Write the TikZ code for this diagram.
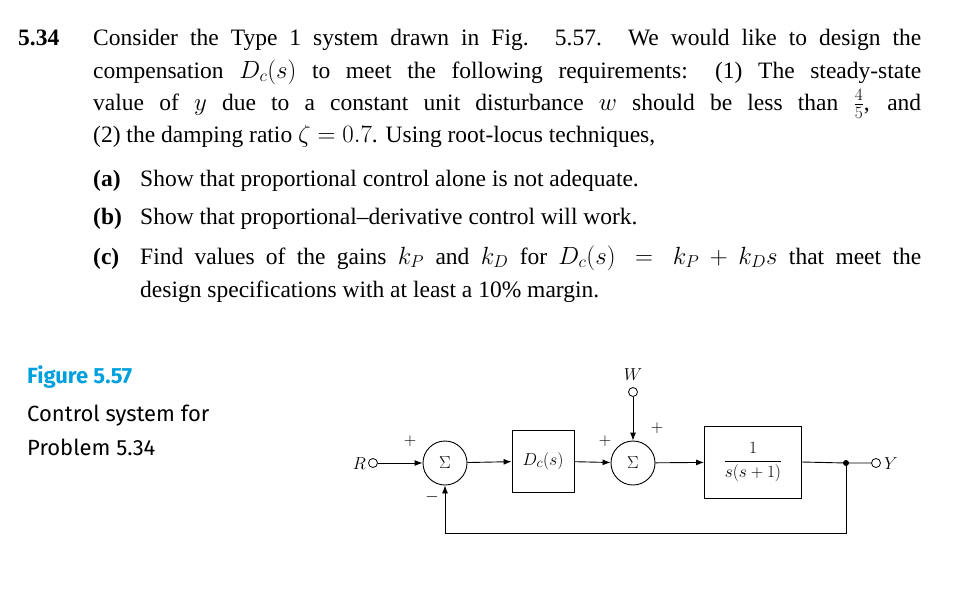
\documentclass[tikz,border=0pt]{standalone}
\usepackage{fontspec}
\setmainfont{Liberation Serif}
\newfontfamily\figfont{Fira Sans}
\usetikzlibrary{arrows.meta}
\definecolor{figblue}{RGB}{0,160,220}
\begin{document}
\begin{tikzpicture}[x=1pt,y=-1pt,
  txt/.style={anchor=base west,inner sep=0pt,font=\fontsize{23.5}{28}\selectfont},
  figt/.style={anchor=base west,inner sep=0pt,font=\figfont\fontsize{22}{26}\selectfont},
  blk/.style={draw,line width=0.9pt,inner sep=0pt,font=\fontsize{19}{22}\selectfont},
  sumn/.style={draw,circle,line width=0.9pt,minimum size=44pt,inner sep=0pt,font=\fontsize{19}{22}\selectfont},
  port/.style={draw,circle,minimum size=9pt,inner sep=0pt,line width=0.8pt},
  sig/.style={line width=0.9pt,-{Latex[length=8pt,width=6pt]}},
  wire/.style={line width=0.9pt},
  lbl/.style={inner sep=0pt,font=\fontsize{19}{22}\selectfont}]
\useasboundingbox (0,0) rectangle (971,605);
\node[txt,font=\bfseries\fontsize{23.5}{28}\selectfont] (num) at (18,45) {5.34};
\node[txt] (l1) at (93,45) {\hbox to 828pt{Consider the Type 1 system drawn in Fig. 5.57. We would like to design the}};
\node[txt] (l2) at (93,78) {\hbox to 828pt{compensation $D_c(s)$ to meet the following requirements: (1) The steady-state}};
\node[txt] (l3) at (93,110) {\hbox to 828pt{value of $y$ due to a constant unit disturbance $w$ should be less than $\frac45$, and}};
\node[txt] (l4) at (93,142) {(2) the damping ratio $\zeta = 0.7$. Using root-locus techniques,};
\node[txt,font=\bfseries\fontsize{23.5}{28}\selectfont] (la) at (93,186) {(a)};
\node[txt] (ta) at (140,186) {Show that proportional control alone is not adequate.};
\node[txt,font=\bfseries\fontsize{23.5}{28}\selectfont] (lb) at (93,224) {(b)};
\node[txt] (tb) at (140,224) {Show that proportional--derivative control will work.};
\node[txt,font=\bfseries\fontsize{23.5}{28}\selectfont] (lc) at (93,264) {(c)};
\node[txt] (tc1) at (140,264) {\hbox to 781pt{Find values of the gains $k_P$ and $k_D$ for $D_c(s) = k_P + k_D s$ that meet the}};
\node[txt] (tc2) at (140,297) {design specifications with at least a 10\% margin.};
\node[figt,text=figblue,font=\figfont\bfseries\fontsize{22}{26}\selectfont] (f1) at (27,383) {Figure 5.57};
\node[figt] (f2) at (27,421) {Control system for};
\node[figt] (f3) at (27,455) {Problem 5.34};
% diagram
\node[port] (R) at (373,463) {};
\node[lbl,anchor=east] (Rl) at (366,464) {$R$};
\node[sumn] (s1) at (445,463) {$\Sigma$};
\node[blk,minimum width=62pt,minimum height=62pt] (Dc) at (543,461) {$D_c(s)$};
\node[sumn] (s2) at (633,463) {$\Sigma$};
\node[port] (W) at (633,392) {};
\node[lbl] (Wl) at (633,375) {$W$};
\node[blk,minimum width=97pt,minimum height=72pt] (G) at (753,462) {$\displaystyle\frac{1}{s(s+1)}$};
\fill (846,463) circle (3pt) coordinate (J);
\node[port] (Y) at (876,463) {};
\node[lbl,anchor=west] (Yl) at (884,464) {$Y$};
\coordinate (fb1) at (846,533);
\coordinate (fb2) at (445,533);
\draw[sig] (R) -- (s1);
\draw[sig] (s1) -- (Dc);
\draw[sig] (Dc) -- (s2);
\draw[sig] (W) -- (s2);
\draw[sig] (s2) -- (G);
\draw[wire] (G.east) -- (J) -- (Y);
\draw[sig,line width=0.8pt] (J) -- (fb1) -- (fb2) -- (s1);
\node[lbl] (p1) at (410,441) {$+$};
\node[lbl] (m1) at (432,497) {$-$};
\node[lbl] (p2) at (605,441) {$+$};
\node[lbl] (p3) at (657,428) {$+$};
\end{tikzpicture}
\end{document}
